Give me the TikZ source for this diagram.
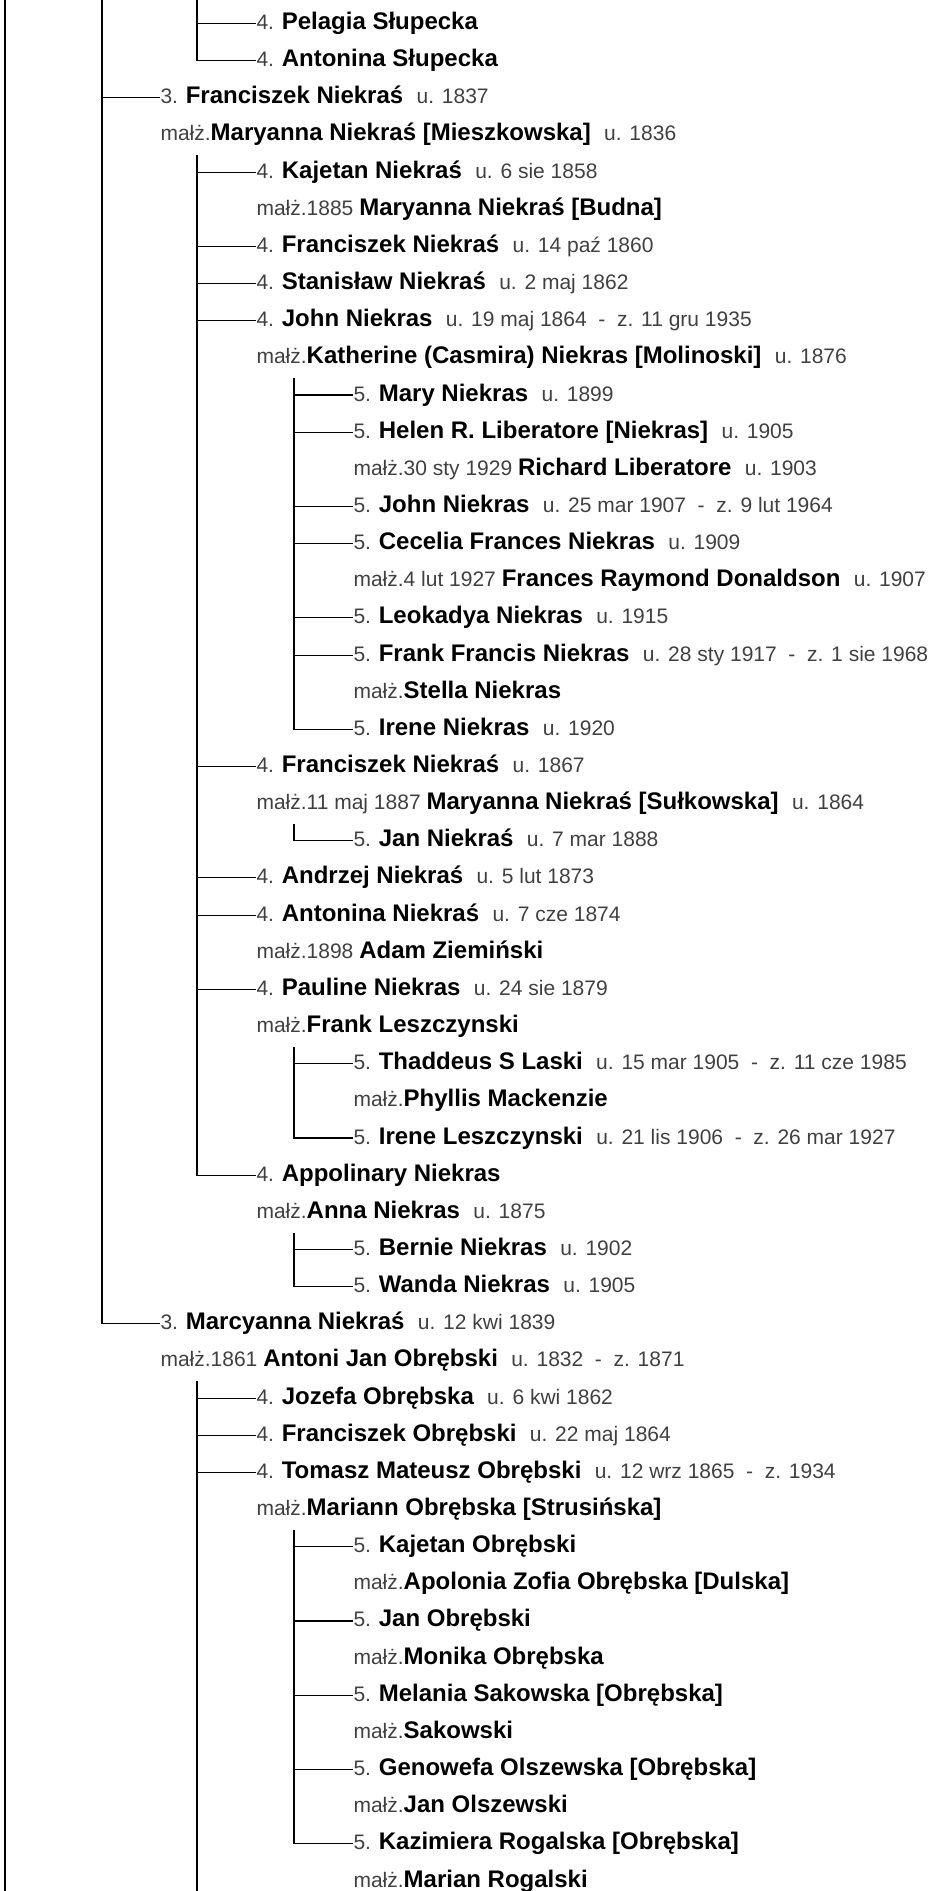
\documentclass[tikz,border=0pt]{standalone}
\usepackage{fontspec}
\setmainfont{Liberation Sans}
\usepackage{xcolor}
\usepackage{tikz}
\usetikzlibrary{positioning}
\definecolor{txtgray}{HTML}{404040}
\newcommand{\nm}[1]{{\color{black}\fontsize{18pt}{20pt}\selectfont\bfseries #1}}
\newcommand{\ur}{\hspace{10pt}}

\begin{document}
\begin{tikzpicture}[x=0.75pt, y=-27.8625pt, font=\fontsize{15.75pt}{18pt}\selectfont, line width=0.8pt]
\tikzset{person/.style={anchor=west, inner sep=0pt, text=txtgray, text height=13pt, text depth=4pt}}
\useasboundingbox (0,0.3674) rectangle (930,51.2691);
\node[person] (pelagia) at (256,1) {4. \nm{Pelagia Słupecka}};
\node[person] (antoninaS) at (256,2) {4. \nm{Antonina Słupecka}};
\node[person] (franciszek) at (160,3) {3. \nm{Franciszek Niekraś}\ur u. 1837};
\node[person] (maryannaM) at (160,4) {małż.\nm{Maryanna Niekraś [Mieszkowska]}\ur u. 1836};
\node[person] (kajetan) at (256,5) {4. \nm{Kajetan Niekraś}\ur u. 6 sie 1858};
\node[person] (maryannaB) at (256,6) {małż.1885 \nm{Maryanna Niekraś [Budna]}};
\node[person] (franciszekB) at (256,7) {4. \nm{Franciszek Niekraś}\ur u. 14 paź 1860};
\node[person] (stanislaw) at (256,8) {4. \nm{Stanisław Niekraś}\ur u. 2 maj 1862};
\node[person] (john) at (256,9) {4. \nm{John Niekras}\ur u. 19 maj 1864~~-~~z. 11 gru 1935};
\node[person] (katherine) at (256,10) {małż.\nm{Katherine (Casmira) Niekras [Molinoski]}\ur u. 1876};
\node[person] (mary) at (353,11) {5. \nm{Mary Niekras}\ur u. 1899};
\node[person] (helen) at (353,12) {5. \nm{Helen R. Liberatore [Niekras]}\ur u. 1905};
\node[person] (richard) at (353,13) {małż.30 sty 1929 \nm{Richard Liberatore}\ur u. 1903};
\node[person] (johnB) at (353,14) {5. \nm{John Niekras}\ur u. 25 mar 1907~~-~~z. 9 lut 1964};
\node[person] (cecelia) at (353,15) {5. \nm{Cecelia Frances Niekras}\ur u. 1909};
\node[person] (frances) at (353,16) {małż.4 lut 1927 \nm{Frances Raymond Donaldson}\ur u. 1907};
\node[person] (leokadya) at (353,17) {5. \nm{Leokadya Niekras}\ur u. 1915};
\node[person] (frank) at (353,18) {5. \nm{Frank Francis Niekras}\ur u. 28 sty 1917~~-~~z. 1 sie 1968};
\node[person] (stella) at (353,19) {małż.\nm{Stella Niekras}};
\node[person] (irene) at (353,20) {5. \nm{Irene Niekras}\ur u. 1920};
\node[person] (franciszekC) at (256,21) {4. \nm{Franciszek Niekraś}\ur u. 1867};
\node[person] (maryannaS) at (256,22) {małż.11 maj 1887 \nm{Maryanna Niekraś [Sułkowska]}\ur u. 1864};
\node[person] (jan) at (353,23) {5. \nm{Jan Niekraś}\ur u. 7 mar 1888};
\node[person] (andrzej) at (256,24) {4. \nm{Andrzej Niekraś}\ur u. 5 lut 1873};
\node[person] (antoninaN) at (256,25) {4. \nm{Antonina Niekraś}\ur u. 7 cze 1874};
\node[person] (adam) at (256,26) {małż.1898 \nm{Adam Ziemiński}};
\node[person] (pauline) at (256,27) {4. \nm{Pauline Niekras}\ur u. 24 sie 1879};
\node[person] (frankL) at (256,28) {małż.\nm{Frank Leszczynski}};
\node[person] (thaddeus) at (353,29) {5. \nm{Thaddeus S Laski}\ur u. 15 mar 1905~~-~~z. 11 cze 1985};
\node[person] (phyllis) at (353,30) {małż.\nm{Phyllis Mackenzie}};
\node[person] (ireneL) at (353,31) {5. \nm{Irene Leszczynski}\ur u. 21 lis 1906~~-~~z. 26 mar 1927};
\node[person] (appolinary) at (256,32) {4. \nm{Appolinary Niekras}};
\node[person] (anna) at (256,33) {małż.\nm{Anna Niekras}\ur u. 1875};
\node[person] (bernie) at (353,34) {5. \nm{Bernie Niekras}\ur u. 1902};
\node[person] (wanda) at (353,35) {5. \nm{Wanda Niekras}\ur u. 1905};
\node[person] (marcyanna) at (160,36) {3. \nm{Marcyanna Niekraś}\ur u. 12 kwi 1839};
\node[person] (antoni) at (160,37) {małż.1861 \nm{Antoni Jan Obrębski}\ur u. 1832~~-~~z. 1871};
\node[person] (jozefa) at (256,38) {4. \nm{Jozefa Obrębska}\ur u. 6 kwi 1862};
\node[person] (franciszekO) at (256,39) {4. \nm{Franciszek Obrębski}\ur u. 22 maj 1864};
\node[person] (tomasz) at (256,40) {4. \nm{Tomasz Mateusz Obrębski}\ur u. 12 wrz 1865~~-~~z. 1934};
\node[person] (mariann) at (256,41) {małż.\nm{Mariann Obrębska [Strusińska]}};
\node[person] (kajetanO) at (353,42) {5. \nm{Kajetan Obrębski}};
\node[person] (apolonia) at (353,43) {małż.\nm{Apolonia Zofia Obrębska [Dulska]}};
\node[person] (janO) at (353,44) {5. \nm{Jan Obrębski}};
\node[person] (monika) at (353,45) {małż.\nm{Monika Obrębska}};
\node[person] (melania) at (353,46) {5. \nm{Melania Sakowska [Obrębska]}};
\node[person] (sakowski) at (353,47) {małż.\nm{Sakowski}};
\node[person] (genowefa) at (353,48) {5. \nm{Genowefa Olszewska [Obrębska]}};
\node[person] (janOl) at (353,49) {małż.\nm{Jan Olszewski}};
\node[person] (kazimiera) at (353,50) {5. \nm{Kazimiera Rogalska [Obrębska]}};
\node[person] (marian) at (353,51) {małż.\nm{Marian Rogalski}};
\coordinate (l2top) at (5,0.3674);
\coordinate (l2end) at (5,51.2691);
\coordinate (l3top) at (102,0.3674);
\coordinate (slupTop) at (197,0.3674);
\coordinate (niekTop) at (197,4.55);
\coordinate (johnTop) at (294,10.55);
\coordinate (franTop) at (294,22.55);
\coordinate (paulTop) at (294,28.55);
\coordinate (appTop) at (294,33.55);
\coordinate (obrTop) at (197,37.55);
\coordinate (obrEnd) at (197,51.2691);
\coordinate (tomTop) at (294,41.55);
\draw (l2top) -- (l2end);
\draw (l3top) |- (marcyanna.west);
\draw (l3top |- franciszek.west) -- (franciszek.west);
\draw (slupTop) |- (antoninaS.west);
\draw (slupTop |- pelagia.west) -- (pelagia.west);
\draw (niekTop) |- (appolinary.west);
\draw (niekTop |- kajetan.west) -- (kajetan.west);
\draw (niekTop |- franciszekB.west) -- (franciszekB.west);
\draw (niekTop |- stanislaw.west) -- (stanislaw.west);
\draw (niekTop |- john.west) -- (john.west);
\draw (niekTop |- franciszekC.west) -- (franciszekC.west);
\draw (niekTop |- andrzej.west) -- (andrzej.west);
\draw (niekTop |- antoninaN.west) -- (antoninaN.west);
\draw (niekTop |- pauline.west) -- (pauline.west);
\draw (johnTop) |- (irene.west);
\draw (johnTop |- mary.west) -- (mary.west);
\draw (johnTop |- helen.west) -- (helen.west);
\draw (johnTop |- johnB.west) -- (johnB.west);
\draw (johnTop |- cecelia.west) -- (cecelia.west);
\draw (johnTop |- leokadya.west) -- (leokadya.west);
\draw (johnTop |- frank.west) -- (frank.west);
\draw (franTop) |- (jan.west);
\draw (paulTop) |- (ireneL.west);
\draw (paulTop |- thaddeus.west) -- (thaddeus.west);
\draw (appTop) |- (wanda.west);
\draw (appTop |- bernie.west) -- (bernie.west);
\draw (obrTop) -- (obrEnd);
\draw (obrTop |- jozefa.west) -- (jozefa.west);
\draw (obrTop |- franciszekO.west) -- (franciszekO.west);
\draw (obrTop |- tomasz.west) -- (tomasz.west);
\draw (tomTop) |- (kazimiera.west);
\draw (tomTop |- kajetanO.west) -- (kajetanO.west);
\draw (tomTop |- janO.west) -- (janO.west);
\draw (tomTop |- melania.west) -- (melania.west);
\draw (tomTop |- genowefa.west) -- (genowefa.west);
\end{tikzpicture}
\end{document}
